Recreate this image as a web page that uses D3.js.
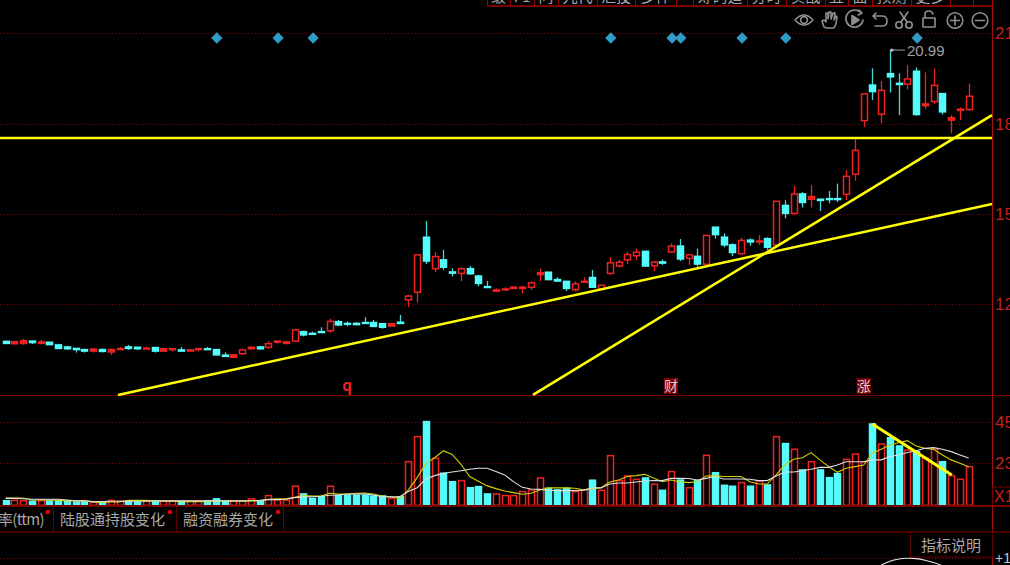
<!DOCTYPE html>
<html><head><meta charset="utf-8">
<script src="https://cdn.jsdelivr.net/npm/d3@7/dist/d3.min.js"></script>
<style>html,body{margin:0;padding:0;background:#000;overflow:hidden}svg{display:block}</style>
</head><body><svg id="c" width="1010" height="565"></svg>
<script>
const opens=[11.09,11.01,11.02,11.10,11.02,11.06,10.97,10.90,10.85,10.81,10.76,10.81,10.73,10.81,10.90,10.89,10.83,10.88,10.76,10.81,10.80,10.76,10.81,10.84,10.81,10.62,10.55,10.67,10.84,10.90,10.89,11.06,11.02,11.10,11.42,11.36,11.42,11.45,11.76,11.70,11.70,11.73,11.73,11.69,11.61,11.74,12.50,12.76,14.63,13.56,13.86,13.45,13.40,13.56,13.31,12.95,12.80,12.84,12.89,12.89,12.93,13.36,13.44,13.19,13.13,12.84,13.10,13.26,12.86,13.40,13.65,13.86,14.00,14.15,13.66,13.79,14.13,14.33,13.91,13.98,13.71,14.97,14.63,14.37,14.07,14.53,14.47,14.58,14.37,15.71,15.44,16.10,15.92,15.92,15.94,15.94,16.09,16.77,18.59,19.80,18.81,20.19,19.86,19.83,20.27,19.10,19.24,19.51,18.61,18.94,18.97];
const highs=[11.09,11.10,11.18,11.10,11.14,11.06,11.01,10.94,10.85,10.81,10.83,10.85,10.85,10.90,10.97,10.89,10.91,10.88,10.84,10.84,10.90,10.80,10.84,10.90,10.81,10.72,10.67,10.84,10.89,10.94,11.10,11.10,11.11,11.52,11.45,11.42,11.57,11.86,11.82,11.77,11.74,11.91,11.82,11.69,11.69,11.99,12.67,14.03,15.18,14.12,14.20,13.57,13.61,13.65,13.35,13.14,12.89,12.93,12.97,12.97,13.13,13.56,13.44,13.27,13.13,13.13,13.27,13.52,13.00,13.95,13.86,14.13,14.24,14.15,13.82,13.87,14.42,14.57,14.03,14.24,14.69,14.97,14.76,14.42,14.61,14.59,14.70,14.63,15.85,15.89,16.37,16.16,16.40,15.94,16.20,16.45,16.91,17.96,19.50,20.37,19.94,20.99,20.20,20.48,20.40,20.23,20.36,19.51,18.78,19.04,19.85];
const lows=[11.02,10.98,10.97,11.00,11.00,10.98,10.83,10.80,10.71,10.71,10.71,10.71,10.63,10.80,10.80,10.80,10.81,10.71,10.76,10.75,10.75,10.76,10.75,10.81,10.63,10.58,10.52,10.63,10.80,10.80,10.83,11.01,11.02,11.07,11.26,11.33,11.39,11.39,11.61,11.61,11.65,11.68,11.59,11.52,11.61,11.68,12.25,12.42,13.72,13.44,13.52,13.30,13.14,13.35,12.96,12.92,12.76,12.80,12.87,12.72,12.84,13.14,13.19,13.14,12.80,12.79,13.10,12.92,12.84,13.36,13.60,13.72,13.86,13.65,13.47,13.69,14.10,13.82,13.69,13.63,13.71,14.58,14.29,13.99,14.03,14.34,14.37,14.20,14.30,15.27,15.39,15.64,15.64,15.52,15.78,15.83,15.89,16.55,18.37,19.29,18.50,19.55,18.78,19.65,18.76,18.99,19.15,18.80,18.16,18.61,18.92];
const closes=[11.02,11.08,11.11,11.05,11.07,10.98,10.85,10.84,10.81,10.76,10.83,10.75,10.81,10.84,10.85,10.84,10.86,10.76,10.84,10.84,10.76,10.80,10.84,10.81,10.63,10.58,10.63,10.80,10.89,10.84,11.01,11.10,11.07,11.48,11.31,11.33,11.39,11.77,11.65,11.67,11.66,11.70,11.60,11.57,11.69,11.70,12.63,14.03,13.82,13.97,13.61,13.41,13.56,13.39,13.06,12.92,12.84,12.87,12.93,12.93,13.08,13.42,13.19,13.14,12.89,13.04,13.13,12.93,13.00,13.76,13.78,14.04,14.12,13.65,13.78,13.75,14.33,13.89,14.03,13.72,14.69,14.72,14.37,14.11,14.52,14.47,14.50,14.29,15.85,15.44,16.10,15.81,16.01,15.88,15.91,15.91,16.70,17.58,19.50,19.58,19.62,20.08,19.82,20.01,18.80,19.16,19.79,18.89,18.69,18.98,19.42];
const volumes=[2.5,2.7,2.5,2.2,2.5,2.4,2.5,2.4,1.8,1.8,1.8,1.5,2.7,2.2,2.2,1.8,2.2,2.2,2.4,2.4,2.2,2.4,2.4,2.5,3.5,2.4,2.4,2.4,3.5,2.4,5.3,2.9,2.9,10.4,6.2,3.8,4.7,10.4,5.5,5.6,5.6,5.6,5.1,5.1,3.8,4.7,23.8,37.5,45.7,25.7,17.5,12.9,13.5,9.6,10.2,6.2,6.2,5.3,5.3,7.5,8.4,14.9,9.3,8.4,9.3,7.5,8.4,13.7,8.2,27.1,13.5,16.0,14.2,14.9,11.5,8.2,18.4,13.8,9.6,13.5,27.3,17.8,10.9,10.4,12.4,10.4,13.3,11.1,37.5,33.7,30.6,19.3,23.8,19.3,15.1,17.3,25.1,28.0,23.8,44.4,33.5,36.9,32.4,30.2,29.3,25.7,30.6,23.8,16.2,14.2,21.1];
const volMaFast=[4.0,4.0,4.0,2.9,2.9,2.9,2.7,2.4,2.4,2.4,1.8,1.6,1.8,1.8,2.7,2.7,2.7,2.4,2.2,2.2,2.0,2.0,2.0,2.0,2.2,2.2,2.2,2.2,2.4,2.5,3.3,3.5,3.5,4.4,5.3,5.1,5.1,6.6,6.2,6.2,6.6,6.7,6.2,5.1,4.7,3.8,8.4,15.1,22.9,26.0,29.8,27.8,22.4,15.7,13.1,10.6,9.1,7.8,6.9,6.0,6.6,8.4,9.5,9.5,9.5,9.3,8.4,9.1,9.6,12.7,13.8,15.7,16.2,16.9,14.9,12.9,13.8,12.9,12.4,12.9,16.0,16.2,15.7,15.7,15.7,12.9,11.6,11.6,16.6,22.0,25.1,26.0,28.8,24.8,21.1,18.0,20.2,21.1,22.0,28.4,30.6,32.9,34.2,35.3,32.4,31.1,30.6,27.5,24.8,22.9,21.1];
const volMaSlow=[3.8,3.8,3.6,3.3,3.3,3.3,3.3,2.9,2.5,2.4,2.0,2.0,2.2,2.2,2.2,2.2,2.2,2.4,2.4,2.4,2.4,2.4,2.4,2.4,2.4,2.4,2.4,2.4,2.5,2.7,3.1,3.1,3.3,4.2,4.6,4.7,4.9,5.5,5.6,6.2,6.2,6.2,5.6,4.7,4.6,4.7,7.5,9.6,14.4,16.2,17.5,18.2,18.9,19.7,20.2,20.2,18.4,16.6,12.9,9.8,8.9,8.7,8.2,8.0,8.0,8.0,8.2,9.5,9.5,11.6,12.2,12.2,12.7,13.3,13.5,13.5,14.7,14.7,14.6,13.8,14.7,15.7,14.4,14.4,14.4,14.2,13.5,13.5,16.0,18.2,18.2,18.9,19.7,20.7,20.7,22.0,23.8,23.8,23.8,24.8,24.8,26.6,27.5,28.8,29.8,31.1,31.5,30.6,29.3,27.5,25.8];
const signalIndex=[24,31,35,69,76,77,84,89,104];
const eventIndex=[39,76,98];
const eventLabels=["q","财","涨"];
const priceTicks=[21.57,18.49,15.43,12.36];
const volumeTicks=[45.7,23.3];
const trendLineA=[[12.83,9.27],[112.66,15.76]];
const trendLineB=[[60.23,9.27],[112.66,18.78]];
const trendLineC=[[-0.65,18.0],[112.66,18.0]];
const volumeTrend=[[99,44.4],[108.07,16.5]];
const lowerIndex=[100,101,102,103,104,105,106,107];
const lowerValues=[0.83,0.93,0.98,1.0,0.99,0.95,0.9,0.81];
const bottomTabs=["率(ttm)","陆股通持股变化","融资融券变化"];
const topTabs=["级","F1","问","九代","汇投","多件","","筹码追","分时","实战","五","面","预测","更多","··",""];

const RED="#ee2222",CYAN="#54fcfc",DARK="#7a0000",GRID="#900000",GREY="#a8a8a8";
const CJK="'Noto Sans CJK SC','Liberation Sans',sans-serif";
const svg=d3.select("#c");
svg.append("rect").attr("width",1010).attr("height",565).attr("fill","#000");
const x=d3.scaleLinear().domain([0,110]).range([5.7,968.7]);
const y=d3.scaleLinear().domain([21.57,12.36]).range([33,304]);
const yv=d3.scaleLinear().domain([0,45.7]).range([505.3,421.6]);
const yl=d3.scaleLinear().domain([1,0]).range([558,600]);
const px=i=>Math.round(x(i));

const hline=(yy,x0,x1,c,w)=>svg.append("line").attr("x1",x0).attr("x2",x1).attr("y1",yy).attr("y2",yy).attr("stroke",c).attr("stroke-width",w);
const vline=(xx,y0,y1,c,w)=>svg.append("line").attr("x1",xx).attr("x2",xx).attr("y1",y0).attr("y2",y1).attr("stroke",c).attr("stroke-width",w);
priceTicks.forEach(t=>hline(Math.round(y(t))+.5,0,992,GRID,1).attr("stroke-dasharray","1 2.4"));
volumeTicks.forEach(t=>hline(Math.round(yv(t))+.5,0,992,GRID,1).attr("stroke-dasharray","1 2.4"));
hline(558.5,0,992,GRID,1).attr("stroke-dasharray","1 2.4");
hline(395.5,0,1010,DARK,1);
hline(506,0,1010,DARK,2);
hline(532,0,1010,"#600000",1.6);
vline(992.5,0,565,"#a01010",1.2);

hline(6,487,992,"#a00000",1.5);
const topSeps=[487,510,534,558,597,635,676,693,747,786,825,848,872,911,950,973,992];
topSeps.forEach(s=>vline(s+.5,0,6,"#a00000",1));
topTabs.forEach((t,i)=>svg.append("text").text(t).attr("x",(topSeps[i]+topSeps[i+1])/2).attr("y",1.5).attr("text-anchor","middle").attr("font-family",CJK).attr("font-size",15).attr("fill",GREY));

const ic=svg.append("g").attr("fill","none").attr("stroke","#8f8f8f").attr("stroke-width",1.6).attr("stroke-linecap","round").attr("stroke-linejoin","round");
ic.append("path").attr("d","M795,20Q804,10 813,20Q804,30 795,20Z");
ic.append("circle").attr("cx",804).attr("cy",20).attr("r",3.4);
ic.append("path").attr("d","M824,27L822,21L824,20L826,22L826,13L828,13L828,19L829,12L831,12L831,19L833,13L835,13L834,20L836,16L837,17L836,24L834,28L827,28Z");
ic.append("path").attr("d","M860,12A8.6,8.6 0 1 0 863,20");ic.append("path").attr("d","M859,10L862,13L858,15");
ic.append("path").attr("d","M852,15.5L859,20L852,24.5Z").attr("fill","#8f8f8f");
ic.append("path").attr("d","M876,13L873,16L876,19M873,16L882,16Q887,16 887,21Q887,26 882,26L875,26");
ic.append("circle").attr("cx",899).attr("cy",25).attr("r",3.2);ic.append("circle").attr("cx",909).attr("cy",25).attr("r",3.2);
ic.append("path").attr("d","M901,22L908,12M907,22L900,12");
ic.append("path").attr("d","M923,18H935V27H923ZM925,18V14Q925,11 929,11Q932,11 933,14");
ic.append("circle").attr("cx",955).attr("cy",20.5).attr("r",7.8);ic.append("path").attr("d","M950.5,20.5H959.5M955,16V25");
ic.append("circle").attr("cx",980).attr("cy",20.5).attr("r",7.8);ic.append("path").attr("d","M975.5,20.5H984.5");

const fmtInt=d=>String(Math.floor(d));
const axisP=svg.append("g").attr("transform","translate(992,0)").call(d3.axisRight(y).tickValues(priceTicks).tickFormat(fmtInt).tickSize(0).tickPadding(3));
const axisV=svg.append("g").attr("transform","translate(992,0)").call(d3.axisRight(yv).tickValues(volumeTicks).tickFormat(fmtInt).tickSize(0).tickPadding(3));
[axisP,axisV].forEach(a=>{a.select(".domain").remove();a.selectAll("text").attr("fill","#c42020").attr("font-family","'Liberation Sans',sans-serif").attr("font-size",17);});
svg.append("rect").attr("x",992.5).attr("y",487).attr("width",20).attr("height",18.5).attr("fill","none").attr("stroke",DARK);
svg.append("text").text("X1").attr("x",994).attr("y",502).attr("fill","#c42020").attr("font-family","'Liberation Sans',sans-serif").attr("font-size",16);
svg.append("text").text("+1").attr("x",995).attr("y",563).attr("fill","#c8c8c8").attr("font-family","'Liberation Sans',sans-serif").attr("font-size",14);

const idx=d3.range(opens.length);
const isUp=i=>closes[i]>opens[i];
const cG=svg.append("g");
cG.selectAll("line").data(idx).join("line")
 .attr("x1",i=>px(i)+.5).attr("x2",i=>px(i)+.5).attr("y1",i=>y(highs[i])).attr("y2",i=>y(lows[i]))
 .attr("stroke",i=>isUp(i)?RED:"#48d8d8").attr("stroke-width",1.3);
cG.selectAll("rect").data(idx).join("rect")
 .attr("x",i=>px(i)-2.5).attr("width",6)
 .attr("y",i=>y(Math.max(opens[i],closes[i]))).attr("height",i=>Math.max(.6,Math.abs(y(opens[i])-y(closes[i]))))
 .attr("fill",i=>isUp(i)?(Math.abs(y(opens[i])-y(closes[i]))<3.5?RED:"#000"):CYAN)
 .attr("stroke",i=>isUp(i)?RED:CYAN).attr("stroke-width",1.5);

svg.append("g").selectAll("path").data(signalIndex).join("path")
 .attr("d",d3.symbol(d3.symbolSquare,64)()).attr("fill","#2f9bc8")
 .attr("transform",i=>`translate(${x(i)+1},38) rotate(45)`);

eventIndex.forEach((e,k)=>{
  if(k>0) svg.append("rect").attr("x",x(e)-7).attr("y",378).attr("width",14).attr("height",16).attr("fill","#7a0000");
  svg.append("text").text(eventLabels[k]).attr("x",x(e)).attr("y",391).attr("text-anchor","middle")
   .attr("font-family",CJK).attr("font-size",k?14:15).attr("font-weight",k?400:700).attr("fill",k?"#e8c8c8":"#f02020");
});

const hi=101;
svg.append("line").attr("x1",x(hi)).attr("x2",905).attr("y1",y(highs[hi])).attr("y2",y(highs[hi])).attr("stroke","#a0a0a0");
svg.append("circle").attr("cx",x(hi)+2).attr("cy",y(highs[hi])).attr("r",1.6).attr("fill","#c0c0c0");
svg.append("text").text(highs[hi].toFixed(2)).attr("x",907).attr("y",y(highs[hi])+5.5).attr("fill","#a0a0a0").attr("font-family","'Liberation Sans',sans-serif").attr("font-size",15);

const tl=d3.line().x(d=>x(d[0])).y(d=>y(d[1]));
[trendLineA,trendLineB,trendLineC].forEach(d=>svg.append("path").attr("d",tl(d)).attr("fill","none").attr("stroke","#ffff00").attr("stroke-width",2.6));

const vG=svg.append("g");
vG.selectAll("rect").data(idx).join("rect")
 .attr("x",i=>px(i)-2.5).attr("width",6)
 .attr("y",i=>yv(volumes[i])).attr("height",i=>505.3-yv(volumes[i]))
 .attr("fill",i=>isUp(i)?"#000":CYAN).attr("stroke",i=>isUp(i)?RED:CYAN).attr("stroke-width",1.5);
const vl=d3.line().x((d,i)=>x(i)).y(d=>yv(d));
svg.append("path").attr("d",vl(volMaFast)).attr("fill","none").attr("stroke","#d0d000").attr("stroke-width",1.1);
svg.append("path").attr("d",vl(volMaSlow)).attr("fill","none").attr("stroke","#e0e0e0").attr("stroke-width",1.1);
svg.append("path").attr("d",d3.line().x(d=>x(d[0])).y(d=>yv(d[1]))(volumeTrend)).attr("fill","none").attr("stroke","#ffff00").attr("stroke-width",3);
hline(506,0,992,DARK,2);

const tabX=[-2,60,183],tabSeps=[53,176,283],dotX=[47.7,170,278],tabSpacing=[-0.7,0,0];
bottomTabs.forEach((t,i)=>{
 svg.append("text").text(t).attr("x",tabX[i]).attr("y",525).attr("letter-spacing",tabSpacing[i]).attr("font-family",CJK).attr("font-size",15).attr("fill",GREY);
 vline(tabSeps[i]+.5,507,532,"#600000",1);
 svg.append("circle").attr("cx",dotX[i]).attr("cy",512).attr("r",2.2).attr("fill","#f00000");
});
svg.append("rect").attr("x",910.5).attr("y",532).attr("width",82).attr("height",25).attr("fill","#000").attr("stroke","#600000");
svg.append("text").text("指标说明").attr("x",951).attr("y",551).attr("text-anchor","middle").attr("font-family",CJK).attr("font-size",15).attr("fill",GREY);
svg.append("path").attr("d",d3.line().x((d,i)=>x(lowerIndex[i])).y(d=>yl(d)).curve(d3.curveBasis)(lowerValues)).attr("fill","none").attr("stroke","#e8e8e8").attr("stroke-width",1.1);
</script></body></html>
